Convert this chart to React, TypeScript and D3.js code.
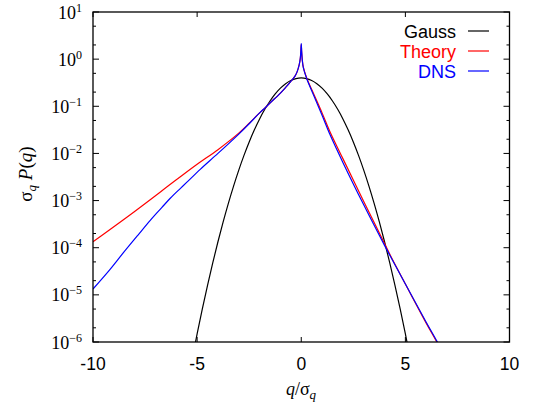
import React from "react";
import * as d3 from "d3";

const gaussX = [-5.5,-5.25,-5,-4.75,-4.5,-4.25,-4,-3.75,-3.5,-3.25,-3,-2.75,-2.5,-2.25,-2,-1.75,-1.5,-1.25,-1,-0.75,-0.5,-0.25,0,0.25,0.5,0.75,1,1.25,1.5,1.75,2,2.25,2.5,2.75,3,3.25,3.5,3.75,4,4.25,4.5,4.75,5,5.25,5.5];
const gaussY = [1.077e-7,4.13e-7,1.487e-6,5.03e-6,1.597e-5,4.77e-5,1.338e-4,3.526e-4,8.727e-4,2.029e-3,4.432e-3,9.09e-3,1.753e-2,3.17e-2,5.40e-2,8.63e-2,0.1295,0.1826,0.2420,0.3011,0.3521,0.3867,0.3989,0.3867,0.3521,0.3011,0.2420,0.1826,0.1295,8.63e-2,5.40e-2,3.17e-2,1.753e-2,9.09e-3,4.432e-3,2.029e-3,8.727e-4,3.526e-4,1.338e-4,4.77e-5,1.597e-5,5.03e-6,1.487e-6,4.13e-7,1.077e-7];

const theoryX = [-10,-8,-6,-5,-4,-3,-2.5,-2,-1.73,-1.5,-1,-0.75,-0.5,-0.3,-0.2,-0.1,-0.05,-0.02,0,0.02,0.05,0.1,0.27,0.6,1.0,1.39,2,3,4,4.35,5,6,6.51,6.8];
const theoryLog = [-3.873,-3.23,-2.56,-2.23,-1.92,-1.57,-1.36,-1.14,-1.03,-0.93,-0.72,-0.6,-0.47,-0.36,-0.27,-0.12,0.0,0.15,0.31,0.15,-0.02,-0.17,-0.41,-0.74,-1.14,-1.55,-2.11,-3.02,-3.91,-4.225,-4.77,-5.6,-6.0,-6.25];

const dnsX = [-10,-9.2,-8.53,-7.8,-7.25,-6.7,-6.29,-5.8,-5.49,-4.85,-4,-3,-2.5,-2,-1.73,-1.5,-1,-0.75,-0.5,-0.3,-0.2,-0.1,-0.05,-0.02,0,0.02,0.05,0.1,0.27,0.6,1.0,1.39,2,3,4,4.35,5,6,6.51,6.8];
const dnsLog = [-4.876,-4.47,-4.10,-3.71,-3.42,-3.15,-2.95,-2.74,-2.61,-2.337,-2.0,-1.59,-1.37,-1.14,-1.03,-0.93,-0.72,-0.6,-0.47,-0.36,-0.27,-0.12,0.0,0.17,0.33,0.17,-0.02,-0.18,-0.42,-0.77,-1.19,-1.61,-2.19,-3.09,-3.95,-4.24,-4.77,-5.58,-5.98,-6.22];

const xTicks = [-10, -5, 0, 5, 10];
const yExponents = [-6, -5, -4, -3, -2, -1, 0, 1];
const legendItems = [
  { label: "Gauss", color: "#000000" },
  { label: "Theory", color: "#ff0000" },
  { label: "DNS", color: "#0000ff" },
];

const W = 535, H = 410;
const L = 93, R = 509.5, T = 12, B = 342;

export default function App() {
  const x = d3.scaleLinear().domain([-10, 10]).range([L, R]);
  const y = d3.scaleLog().domain([1e-6, 10]).range([B, T]);
  const line = d3
    .line<[number, number]>()
    .x((d) => x(d[0]))
    .y((d) => y(d[1]))
    .curve(d3.curveCatmullRom.alpha(0.5));

  const gauss = gaussX.map((v, i) => [v, gaussY[i]] as [number, number]);
  const theory = theoryX.map((v, i) => [v, Math.pow(10, theoryLog[i])] as [number, number]);
  const dns = dnsX.map((v, i) => [v, Math.pow(10, dnsLog[i])] as [number, number]);

  const minor: number[] = [];
  for (let e = -6; e < 1; e++) {
    minor.push(2 * Math.pow(10, e), 5 * Math.pow(10, e));
  }

  const serif = "'Liberation Serif', 'Times New Roman', serif";
  const sans = "'Liberation Sans', Arial, sans-serif";

  return (
    <svg width={W} height={H} style={{ position: "absolute", left: 0, top: 0 }}>
      <defs>
        <clipPath id="plotclip">
          <rect x={L} y={T} width={R - L} height={B - T} />
        </clipPath>
      </defs>
      <rect width={W} height={H} fill="#fff" />
      <g stroke="#000" strokeWidth={1}>
        {yExponents.map((e) => {
          const yy = y(Math.pow(10, e));
          return (
            <g key={"ym" + e}>
              <line x1={L} x2={L + 6} y1={yy} y2={yy} />
              <line x1={R} x2={R - 6} y1={yy} y2={yy} />
            </g>
          );
        })}
        {minor.map((v, i) => {
          const yy = y(v);
          return (
            <g key={"yn" + i}>
              <line x1={L} x2={L + 3} y1={yy} y2={yy} />
              <line x1={R} x2={R - 3} y1={yy} y2={yy} />
            </g>
          );
        })}
        {xTicks.map((t) => (
          <g key={"xt" + t}>
            <line x1={x(t)} x2={x(t)} y1={B} y2={B - 5} />
            <line x1={x(t)} x2={x(t)} y1={T} y2={T + 5} />
          </g>
        ))}
      </g>
      <g clipPath="url(#plotclip)" fill="none" strokeWidth={1.2}>
        <path d={line(gauss) || ""} stroke="#000" />
        <path d={line(theory) || ""} stroke="#ff0000" />
        <path d={line(dns) || ""} stroke="#0000ff" />
      </g>
      <rect x={L} y={T} width={R - L} height={B - T} fill="none" stroke="#000" strokeWidth={1.3} />
      {yExponents.map((e) => {
        const yy = y(Math.pow(10, e));
        const exp = e < 0 ? "\u2212" + Math.abs(e) : String(e);
        return (
          <text key={"yl" + e} x={82} y={yy + 6.5} textAnchor="end" fontFamily={serif} fontSize={18}>
            10
            <tspan fontSize={12} dy={-7}>{exp}</tspan>
          </text>
        );
      })}
      {xTicks.map((t) => (
        <text key={"xl" + t} x={x(t)} y={370} textAnchor="middle" fontFamily={sans} fontSize={17.5}>
          {t}
        </text>
      ))}
      <text x={301} y={395} textAnchor="middle" fontFamily={serif} fontSize={18}>
        <tspan fontStyle="italic">q</tspan>
        <tspan>/σ</tspan>
        <tspan fontStyle="italic" fontSize={13} dy={4}>q</tspan>
      </text>
      <text
        transform="translate(32,174) rotate(-90)"
        textAnchor="middle"
        fontFamily={serif}
        fontSize={19}
      >
        <tspan>σ</tspan>
        <tspan fontStyle="italic" fontSize={13} dy={4}>q</tspan>
        <tspan dy={-4}> </tspan>
        <tspan fontStyle="italic">P</tspan>
        <tspan>(</tspan>
        <tspan fontStyle="italic">q</tspan>
        <tspan>)</tspan>
      </text>
      {legendItems.map((it, i) => {
        const by = 37.5 + i * 20;
        return (
          <g key={it.label}>
            <text x={456} y={by} textAnchor="end" fontFamily={sans} fontSize={18} fill={it.color}>
              {it.label}
            </text>
            <line x1={468} x2={489} y1={by - 6.5} y2={by - 6.5} stroke={it.color} strokeWidth={1.2} />
          </g>
        );
      })}
    </svg>
  );
}
